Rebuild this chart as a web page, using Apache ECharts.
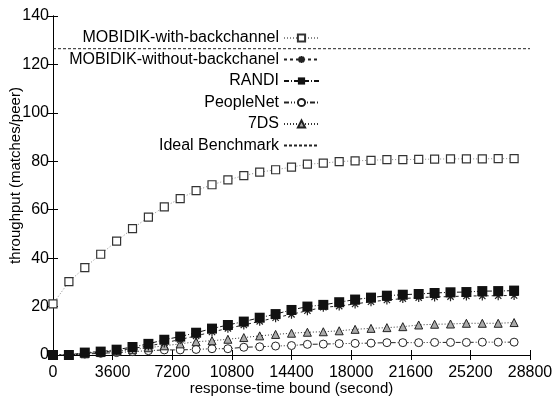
<!DOCTYPE html>
<html><head><meta charset="utf-8">
<script src="https://cdn.jsdelivr.net/npm/echarts@6/dist/echarts.min.js"></script>
<style>html,body{margin:0;padding:0;background:#fff}#c{width:554px;height:397px}</style>
</head><body><div id="c"></div>
<script>
const xValues = [0, 960, 1920, 2880, 3840, 4800, 5760, 6720, 7680, 8640, 9600, 10560, 11520, 12480, 13440, 14400, 15360, 16320, 17280, 18240, 19200, 20160, 21120, 22080, 23040, 24000, 24960, 25920, 26880, 27840];
const mobWith = [21.1, 30.3, 36.1, 41.6, 47.0, 52.2, 56.9, 61.2, 64.6, 67.9, 70.3, 72.3, 74.1, 75.5, 76.5, 77.6, 78.8, 79.2, 79.9, 80.2, 80.4, 80.7, 80.7, 80.8, 80.9, 81.0, 81.0, 81.0, 81.1, 81.1];
const mobWithout = [0, 0, 0.7, 1.2, 1.8, 2.7, 3.7, 5.0, 6.4, 7.9, 9.5, 11.0, 12.4, 13.9, 15.4, 16.8, 18.3, 19.7, 20.2, 21.1, 22.0, 22.7, 23.3, 23.7, 24.0, 24.1, 24.4, 24.4, 24.5, 24.6];
const randi = [0, 0, 1.0, 1.4, 2.2, 3.3, 4.6, 6.3, 7.6, 9.2, 10.9, 12.4, 13.8, 15.4, 16.9, 18.6, 20.0, 20.7, 21.8, 22.9, 23.7, 24.5, 24.9, 25.2, 25.6, 25.9, 26.0, 26.4, 26.4, 26.6];
const peopleNet = [0, 0, 0.4, 0.7, 1.0, 1.4, 1.8, 2.1, 2.1, 2.3, 2.6, 2.6, 3.2, 3.4, 3.7, 3.9, 4.4, 4.5, 4.7, 4.8, 4.9, 5.1, 5.1, 5.1, 5.2, 5.2, 5.2, 5.3, 5.3, 5.3];
const sevenDS = [0, 0, 0.5, 1.0, 1.6, 2.2, 3.0, 3.8, 4.6, 5.5, 5.9, 6.5, 7.2, 7.9, 8.5, 9.0, 9.4, 9.6, 10.0, 10.6, 11.0, 11.3, 11.7, 12.4, 12.7, 12.8, 13.1, 13.1, 13.1, 13.4];
const idealX = [0, 28800];
const idealY = [126.5, 126.5];
const names = ['MOBIDIK-with-backchannel', 'MOBIDIK-without-backchanel', 'RANDI', 'PeopleNet', '7DS', 'Ideal Benchmark'];

const pair = (xs, ys) => xs.map((x, i) => [x, ys[i]]);
const FONT = '"Liberation Sans", Arial, sans-serif';
const asterisk = 'path://M5,0L5,10M0,5L10,5M1.5,1.5L8.5,8.5M1.5,8.5L8.5,1.5';

const chart = echarts.init(document.getElementById('c'), null, {renderer: 'canvas'});
const axisCommon = {
  axisLine: {show: true, lineStyle: {color: '#000', width: 1}},
  axisTick: {show: true, inside: true, length: 5, lineStyle: {color: '#000'}},
  splitLine: {show: false},
  axisLabel: {color: '#000', fontFamily: FONT, fontSize: 16, formatter: v => String(v)}
};
chart.setOption({
  animation: false,
  backgroundColor: '#fff',
  grid: {left: 53, right: 24, top: 16, bottom: 42, containLabel: false, outerBoundsMode: 'none'},
  legend: {
    orient: 'vertical', align: 'right', right: 234, top: 30, padding: 0,
    itemWidth: 35, itemHeight: 9, itemGap: 5.5,
    textStyle: {color: '#000', fontFamily: FONT, fontSize: 16},
    data: names.slice(0, 5).concat([{name: names[5], itemStyle: {opacity: 0}}])
  },
  xAxis: [
    Object.assign({}, axisCommon, {type: 'value', min: 0, max: 28800, interval: 3600,
      axisLabel: Object.assign({}, axisCommon.axisLabel, {margin: 10}),
      name: 'response-time bound (second)', nameLocation: 'middle', nameGap: 26, nameMoveOverlap: false,
      nameTextStyle: {color: '#000', fontFamily: FONT, fontSize: 15}}),
    Object.assign({}, axisCommon, {type: 'value', position: 'top', min: 0, max: 28800, interval: 3600,
      axisLabel: {show: false}})
  ],
  yAxis: [
    Object.assign({}, axisCommon, {type: 'value', min: 0, max: 140, interval: 20,
      axisLabel: Object.assign({}, axisCommon.axisLabel, {margin: 4}),
      name: 'throughput (matches/peer)', nameLocation: 'middle', nameGap: 30, nameMoveOverlap: false,
      nameTextStyle: {color: '#000', fontFamily: FONT, fontSize: 15, padding: [0, 0, 0, 20]}}),
    Object.assign({}, axisCommon, {type: 'value', position: 'right', min: 0, max: 140, interval: 20,
      axisLabel: {show: false}})
  ],
  series: [
    {name: names[0], type: 'line', data: pair(xValues, mobWith), symbol: 'rect', symbolSize: 8,
      lineStyle: {color: '#888', width: 1, type: [1, 2]},
      itemStyle: {color: '#fff', borderColor: '#333', borderWidth: 1.2}, z: 5},
    {name: names[1], type: 'line', data: pair(xValues, mobWithout), symbol: asterisk, symbolSize: 9,
      lineStyle: {color: '#222', width: 1, type: [3, 3]},
      itemStyle: {color: '#222', borderColor: '#222', borderWidth: 1.2}, z: 4},
    {name: names[2], type: 'line', data: pair(xValues, randi), symbol: 'rect', symbolSize: 10,
      lineStyle: {color: '#111', width: 1, type: [5, 2, 1, 2]},
      itemStyle: {color: '#111', borderColor: '#111', borderWidth: 0}, z: 6},
    {name: names[3], type: 'line', data: pair(xValues, peopleNet), symbol: 'circle', symbolSize: 8,
      lineStyle: {color: '#222', width: 1, type: [5, 2, 1, 2, 1, 2]},
      itemStyle: {color: '#fff', borderColor: '#222', borderWidth: 1}, z: 3},
    {name: names[4], type: 'line', data: pair(xValues, sevenDS), symbol: 'triangle', symbolSize: 8,
      lineStyle: {color: '#333', width: 1, type: [1, 2]},
      itemStyle: {color: '#aaa', borderColor: '#222', borderWidth: 1}, z: 3},
    {name: names[5], type: 'line', data: pair(idealX, idealY), symbol: 'none',
      lineStyle: {color: '#222', width: 1, type: [3, 2]}, itemStyle: {color: '#222'}, z: 2}
  ]
});
</script></body></html>
